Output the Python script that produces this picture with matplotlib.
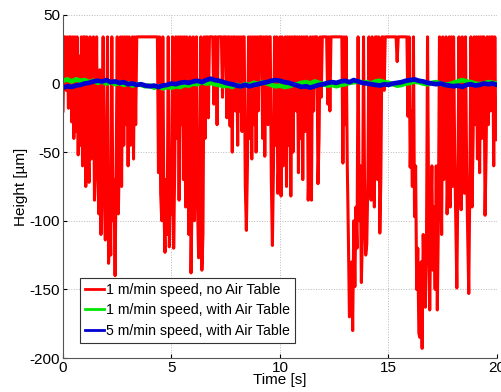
import numpy as np
import matplotlib.pyplot as plt

plt.rcParams["font.family"] = ["Liberation Sans", "DejaVu Sans"]
plt.rcParams["axes.unicode_minus"] = False

# height [um], sampled every 0.05 s, 1 m/min without air table
red = [
    -20, 34, 34, -5, 34, -18, 34, 34, -28, 34, -40, 34, -35, 34, -52, 20, -45, 34, -60, 34,
    34, -75, 34, -30, -72, 34, -55, -20, 34, -85, -40, 34, -65, -95, 10, -110, -50, 34, -80, -114,
    -60, 34, -131, -90, -125, 34, -100, -70, -140, -60, 34, -95, -50, 34, -75, 34, -45, 34, -30, 34,
    -60, 34, -45, -20, 34, -55, 34, -30, 34, 34, 34, 34, 34, 34, 34, 34, 34, 34, 34, 34,
    34, 34, 34, 34, 34, 34, 34, 34, -65, 34, -80, -100, 34, -90, -123, -70, -110, 34, -119, -85,
    -95, 34, -120, -60, 34, -40, 34, -85, 34, -30, 34, -70, 34, -90, 34, -50, -110, 34, -138, -80,
    34, -100, -60, 34, -90, -127, -75, 34, -136, -110, 34, -40, 34, 34, -25, 34, 34, 34, 34, -15,
    34, 34, -30, 34, 34, 34, 34, -10, 34, 34, 34, -25, 34, 34, -31, 34, -50, 34, 34, -20,
    34, -45, 34, -20, 34, -35, 34, 34, -74, -107, -60, 34, -40, 34, -55, 34, -30, 34, -50, 34,
    -20, 34, 34, 34, -40, 34, -53, 34, 34, -30, 34, 34, -70, -118, -60, 34, -45, 34, -80, -55,
    34, -82, 34, -60, -30, 34, -75, 34, -45, 34, -82, 34, -50, 34, 34, -20, 34, -65, 34, -40,
    34, -70, 34, -35, 34, 34, -85, -55, 34, -85, 34, -20, 34, 34, 34, -73, -40, 34, -10, 34,
    34, 34, 34, 34, -15, 34, -20, 34, 34, 34, 34, 34, 34, 34, 34, 34, 34, 34, -58, 34,
    -30, 34, -58, -110, -170, -168, -130, -180, -100, -148, -90, -120, 34, -100, -60, -145, -110, 34, -80, -125,
    -117, -70, 34, -60, -85, 34, -50, -90, 34, 34, -70, 34, -109, -68, 34, 34, -5, 34, 34, 34,
    34, 34, 34, 34, 34, 34, 34, 34, 16, 34, 34, 34, 34, 34, 34, 34, 34, 34, -24, 34,
    -61, -20, -75, 34, -97, -60, -150, -120, -182, -185, -130, -193, -110, -150, -163, -120, 34, -90, -165, -100,
    -60, -136, -90, -150, -60, -165, -100, 34, -50, -110, 34, -70, -40, 34, -95, -60, 34, -90, 34, -75,
    34, -50, -100, -149, -70, 34, -60, -92, 34, -40, -80, 34, -60, -110, -153, -70, 34, -90, -40, 34,
    -30, 34, -55, 34, -65, 34, -40, 34, 34, -96, -50, 34, -30, 34, -20, 34, 34, -60, 34, -41,
    -41,
]

# sampled every 0.2 s, 1 m/min with air table
green = [
    2, 3, 1.5, 3, 2, 2.5, 1, 2, 0.5, 1.5, 0, 1, -0.5, 0.5, -1, 0, -1.5, -0.5, -1, -2,
    -1.5, -3, -2, -3.5, -2.5, -3, -2, -2.5, -1, -1.5, 0, -0.5, 1, 0, 0.5, -0.5, -1, -2, -1.5, -2.5,
    -1, -2, -0.5, -1, 0.5, -0.5, 1, 0, -1, -2, -1.5, -2.5, -2, -1, -0.5, 0.5, 1, 0, 1.5, 0.5,
    -0.5, -1.5, -1, -2, -1, -0.5, 0.5, 1, 1.5, 0.5, 1, 0, 1.5, 2, 1, 0.5, -0.5, -1.5, -1, 0,
    0.5, 1.5, 1, 0, -0.5, 0.5, 1, 0, -1, -0.5, 0.5, 1.5, 2.5, 1.5, 1, 0, -0.5, 0, 1, 0.5,
    0,
]

# sampled every 0.2 s, 5 m/min with air table
blue = [
    -3, -2, -2.5, -1.5, -1, 0, 0.5, 1.5, 2, 1.5, 2.5, 1, 1.5, 0.5, 1, -0.5, 0, -1, -0.5, -1.5,
    -2, -1.5, -2.5, -1.5, -1, 0, -0.5, 0.5, 1, 0.5, 1.5, 2, 1, 2.5, 3.5, 2.5, 2, 1, 0, -0.5,
    -1.5, -2, -1, -2, -1, -0.5, 0.5, 1, 2, 2.5, 2, 1, 0.5, -0.5, -1.5, -2.5, -2, -3, -2, -1,
    -0.5, 0.5, 1, 0.5, 1.5, 2, 1, 2.5, 1.5, 0.5, 0, -0.5, -1, -1.5, -0.5, -1, 0, 0.5, 1, 2,
    2.5, 3, 2, 1.5, 0.5, 0, -0.5, 0, -1, -1.5, -2, -1.5, -2.5, -1, -0.5, -1.5, -1, 0, -0.5, 0,
    -1,
]

t_red = np.linspace(0, 20, len(red))
t_green = np.linspace(0, 20, len(green))
t_blue = np.linspace(0, 20, len(blue))

fig = plt.figure(figsize=(5.02, 3.92), dpi=100)
ax = fig.add_axes([0.1255, 0.0867, 0.8645, 0.8753])

ax.plot(t_red, red, color="#ff0000", lw=2.2, label="1 m/min speed, no Air Table")
ax.plot(t_green, green, color="#00e600", lw=3.4, label="1 m/min speed, with Air Table")
ax.plot(t_blue, blue, color="#0000d0", lw=3.4, label="5 m/min speed, with Air Table")

ax.set_xlim(0, 20)
ax.set_ylim(-200, 50)
ax.set_xticks([0, 5, 10, 15, 20])
ax.set_yticks([-200, -150, -100, -50, 0, 50])
ax.grid(True, color="#b8b8b8", linestyle=":", linewidth=0.7)
ax.tick_params(direction="in", labelsize=11, length=3, pad=2)
for s in ["top", "right"]:
    ax.spines[s].set_visible(False)
for s in ["left", "bottom"]:
    ax.spines[s].set_color("#555555")

ax.set_xlabel("Time [s]", fontsize=11, labelpad=-1)
ax.set_ylabel("Height [\u00b5m]", fontsize=11, labelpad=1)

leg = ax.legend(loc="lower left", bbox_to_anchor=(0.04, 0.045), fontsize=10.2,
                handlelength=1.3, handletextpad=0.15, borderpad=0.35,
                labelspacing=0.45, fancybox=False, framealpha=1, borderaxespad=0)
leg.get_frame().set_edgecolor("#333333")
leg.get_frame().set_linewidth(0.8)
for line in leg.get_lines():
    line.set_linewidth(2)

fig.savefig("out.png", dpi=100)
